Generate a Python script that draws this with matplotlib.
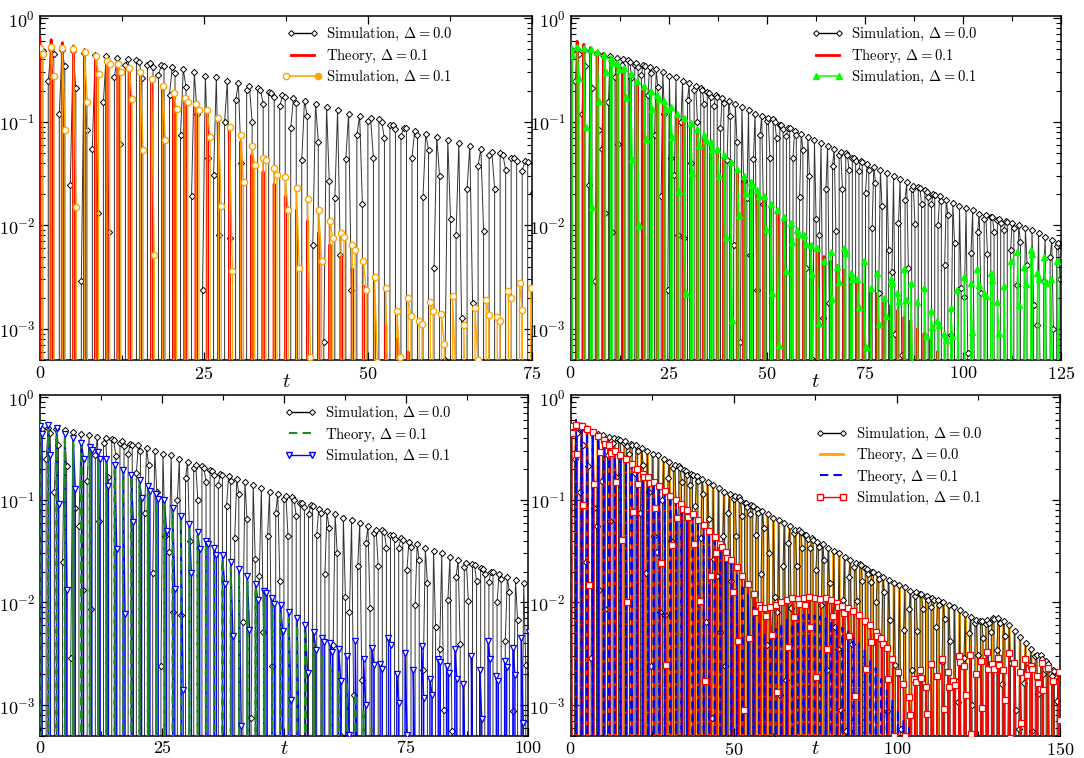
import numpy as np
import matplotlib.pyplot as plt
from matplotlib.lines import Line2D
from matplotlib.legend_handler import HandlerBase
from matplotlib.ticker import MultipleLocator

plt.rcParams['font.family'] = 'serif'
plt.rcParams['font.serif'] = ['cmr10', 'DejaVu Serif']
plt.rcParams['mathtext.fontset'] = 'cm'
plt.rcParams['axes.formatter.use_mathtext'] = True

# oscillation period (read from spacing of the dips)
period_d0 = 1.68
period_d1 = 1.70

# Simulation, Delta = 0.0 : peak of every oscillation (same run in all panels)
sim_d0_peak = [
    0.50, 0.50, 0.49, 0.48, 0.46, 0.44, 0.43, 0.41, 0.40, 0.38,
    0.37, 0.35, 0.34, 0.32, 0.30, 0.28, 0.27, 0.25, 0.235, 0.22,
    0.205, 0.19, 0.18, 0.17, 0.16, 0.15, 0.14, 0.13, 0.12, 0.115,
    0.108, 0.10, 0.094, 0.088, 0.082, 0.077, 0.072, 0.067, 0.063, 0.059,
    0.055, 0.051, 0.048, 0.045, 0.042, 0.039, 0.037, 0.034, 0.032, 0.030,
    0.028, 0.026, 0.024, 0.023, 0.021, 0.020, 0.019, 0.0175, 0.0165, 0.0155,
    0.0147, 0.014, 0.013, 0.0125, 0.012, 0.0115, 0.011, 0.0105, 0.010, 0.0095,
    0.009, 0.0085, 0.0078, 0.0072, 0.0068, 0.0066, 0.0068, 0.0070, 0.0070, 0.0066,
    0.0060, 0.0053, 0.0046, 0.0040, 0.0035, 0.0031, 0.0028, 0.0025, 0.0022, 0.0020,
]
# sampled points on the falling / rising flank, as fraction of the peak
sim_d0_fall = [
    0.97, 0.90, 0.70, 0.44, 0.18, 0.03, 0.02, 0.15, 0.42, 0.70, 0.91,
    0.98, 0.88, 0.68, 0.40, 0.16, 0.03, 0.03, 0.17, 0.45, 0.72, 0.92,
    0.97, 0.89, 0.71, 0.43, 0.19, 0.04, 0.02, 0.14, 0.41, 0.69, 0.90,
    0.98, 0.91, 0.69, 0.42, 0.17, 0.02, 0.03, 0.16, 0.44, 0.71, 0.92,
    0.97, 0.88, 0.70, 0.45, 0.18, 0.03, 0.02, 0.15, 0.43, 0.70, 0.90,
    0.98, 0.90, 0.72, 0.41, 0.16, 0.04, 0.03, 0.17, 0.42, 0.72, 0.91,
    0.97, 0.89, 0.69, 0.44, 0.19, 0.03, 0.02, 0.14, 0.45, 0.69, 0.92,
    0.98, 0.91, 0.71, 0.43, 0.17, 0.02, 0.03, 0.16, 0.41, 0.71, 0.90,
    0.97, 0.89,
]
sim_d0_rise = [
    0.50, 0.24, 0.05, 0.006, 0.12, 0.35, 0.63, 0.87, 0.98, 0.94, 0.76,
    0.52, 0.22, 0.06, 0.008, 0.11, 0.37, 0.65, 0.86, 0.97, 0.95, 0.74,
    0.48, 0.25, 0.04, 0.005, 0.13, 0.34, 0.62, 0.88, 0.98, 0.93, 0.77,
    0.51, 0.23, 0.05, 0.007, 0.12, 0.36, 0.64, 0.87, 0.99, 0.94, 0.75,
    0.49, 0.24, 0.06, 0.006, 0.11, 0.35, 0.63, 0.86, 0.98, 0.95, 0.76,
    0.50, 0.22, 0.05, 0.008, 0.13, 0.37, 0.61, 0.88, 0.97, 0.94, 0.78,
    0.52, 0.25, 0.04, 0.006, 0.12, 0.34, 0.64, 0.87, 0.98, 0.93, 0.75,
    0.49, 0.23, 0.06, 0.007, 0.11, 0.36, 0.62, 0.86, 0.99, 0.95, 0.76,
    0.50, 0.24,
]
theory_d0_peak = sim_d0_peak

# panel (a): Theory / Simulation, Delta = 0.1
theory_a_peak = [
    0.64, 0.62, 0.58, 0.54, 0.50, 0.45, 0.40, 0.37, 0.34, 0.30,
    0.26, 0.22, 0.19, 0.165, 0.14, 0.12, 0.10, 0.08, 0.064, 0.048,
    0.033, 0.025, 0.019, 0.014, 0.011, 0.0085, 0.0065, 0.005, 0.0038, 0.0026,
    0.0017, 0.0011, 0.0008, 0.0006, 0.0003,
]
sim_a_peak = [
    0.52, 0.53, 0.52, 0.50, 0.47, 0.43, 0.39, 0.36, 0.33, 0.30,
    0.26, 0.22, 0.19, 0.17, 0.15, 0.13, 0.11, 0.09, 0.075, 0.058,
    0.045, 0.036, 0.029, 0.023, 0.018, 0.014, 0.011, 0.0085, 0.0065, 0.0045,
    0.0032, 0.0025, 0.0015, 0.0020, 0.0012, 0.0018, 0.0014, 0.0021, 0.0011, 0.0016,
    0.0019, 0.0013, 0.0023, 0.0028, 0.0025,
]
sim_a_fall = [
    0.86, 0.52, 0.16, 0.03, 0.33, 0.68, 0.93,
    0.84, 0.50, 0.18, 0.02, 0.30, 0.70, 0.92,
    0.87, 0.55, 0.14, 0.04, 0.35, 0.66, 0.94,
    0.85, 0.48, 0.17, 0.03, 0.32, 0.69, 0.91,
    0.88, 0.53, 0.15, 0.05, 0.36, 0.67, 0.93,
    0.83, 0.51, 0.19, 0.03, 0.31, 0.71, 0.92,
    0.86, 0.54, 0.16,
]

# panel (b)
theory_b_peak = [
    0.62, 0.60, 0.56, 0.52, 0.48, 0.45, 0.42, 0.37, 0.33, 0.29,
    0.25, 0.22, 0.20, 0.175, 0.155, 0.14, 0.12, 0.107, 0.096, 0.083,
    0.072, 0.062, 0.053, 0.046, 0.040, 0.034, 0.029, 0.025, 0.021, 0.018,
    0.015, 0.013, 0.011, 0.0095, 0.0082, 0.0070, 0.0061, 0.0055, 0.0050, 0.0045,
    0.0041, 0.0037, 0.0033, 0.0030, 0.0027, 0.0024, 0.0021, 0.0019, 0.0017, 0.0015,
    0.0013, 0.0012, 0.0010, 0.0009, 0.0008, 0.0006, 0.0005,
]
sim_b_peak = [
    0.52, 0.53, 0.52, 0.50, 0.47, 0.44, 0.41, 0.37, 0.33, 0.29,
    0.25, 0.22, 0.20, 0.18, 0.16, 0.14, 0.12, 0.11, 0.097, 0.085,
    0.074, 0.064, 0.055, 0.048, 0.041, 0.035, 0.030, 0.026, 0.022, 0.019,
    0.016, 0.014, 0.012, 0.0105, 0.009, 0.008, 0.0065, 0.006, 0.0045, 0.0055,
    0.004, 0.006, 0.0035, 0.003, 0.0045, 0.0025, 0.0035, 0.002, 0.003, 0.0022,
    0.0038, 0.0028, 0.0018, 0.0025, 0.0015, 0.0012, 0.0009, 0.0016, 0.0024, 0.0032,
    0.0028, 0.0038, 0.0022, 0.0035, 0.0018, 0.0026, 0.0045, 0.0055, 0.004, 0.0058,
    0.0035, 0.005, 0.003, 0.0045, 0.0052,
]
sim_b_fall = [
    0.85, 0.50, 0.17, 0.03, 0.34, 0.69, 0.92,
    0.87, 0.53, 0.15, 0.04, 0.31, 0.67, 0.93,
    0.84, 0.51, 0.18, 0.02, 0.33, 0.70, 0.91,
    0.86, 0.55, 0.16, 0.03, 0.36, 0.68, 0.94,
    0.88, 0.49, 0.14, 0.05, 0.30, 0.66, 0.92,
    0.83, 0.52, 0.19, 0.03, 0.35, 0.71, 0.90,
    0.87, 0.54, 0.15, 0.04, 0.32, 0.67, 0.93,
    0.85, 0.50, 0.17, 0.02, 0.34, 0.69, 0.91,
    0.86, 0.53, 0.18, 0.03, 0.33, 0.70, 0.94,
    0.84, 0.51, 0.16, 0.04, 0.31, 0.68, 0.92,
    0.87, 0.55, 0.15, 0.03, 0.35,
]

# panel (c)
theory_c_peak = [
    0.60, 0.58, 0.50, 0.43, 0.39, 0.35, 0.32, 0.28, 0.245, 0.215,
    0.19, 0.17, 0.155, 0.13, 0.11, 0.096, 0.08, 0.066, 0.054, 0.045,
    0.037, 0.031, 0.026, 0.022, 0.019, 0.016, 0.014, 0.012, 0.0097, 0.0082,
    0.007, 0.006, 0.005, 0.004, 0.0031, 0.0025, 0.0021, 0.0017, 0.0013, 0.0009,
    0.0006,
]
sim_c_peak = [
    0.52, 0.53, 0.50, 0.44, 0.40, 0.36, 0.33, 0.29, 0.25, 0.22,
    0.195, 0.175, 0.155, 0.135, 0.115, 0.10, 0.084, 0.07, 0.058, 0.048,
    0.04, 0.034, 0.029, 0.025, 0.021, 0.018, 0.015, 0.013, 0.011, 0.0095,
    0.008, 0.007, 0.006, 0.0052, 0.0045, 0.004, 0.0035, 0.003, 0.0042, 0.0028,
    0.0036, 0.0025, 0.0045, 0.002, 0.0032, 0.0022, 0.0038, 0.0018, 0.0028, 0.0024,
    0.0035, 0.0016, 0.003, 0.0022, 0.0042, 0.0019, 0.0027, 0.0036, 0.0045, 0.0052,
]
sim_c_fall = [
    0.84, 0.51, 0.18, 0.03, 0.32, 0.70, 0.93,
    0.86, 0.54, 0.15, 0.04, 0.35, 0.67, 0.91,
    0.88, 0.50, 0.16, 0.02, 0.33, 0.69, 0.92,
    0.85, 0.52, 0.19, 0.03, 0.30, 0.71, 0.94,
    0.87, 0.55, 0.14, 0.05, 0.34, 0.66, 0.92,
    0.83, 0.49, 0.17, 0.03, 0.36, 0.68, 0.90,
    0.86, 0.53, 0.16, 0.04, 0.31, 0.70, 0.93,
    0.85, 0.51, 0.18, 0.02, 0.33, 0.67, 0.91,
    0.87, 0.54, 0.15, 0.03,
]

# panel (d)
theory_d_peak = [
    0.62, 0.62, 0.57, 0.52, 0.47, 0.42, 0.38, 0.34, 0.30, 0.27,
    0.245, 0.22, 0.20, 0.18, 0.16, 0.145, 0.13, 0.12, 0.11, 0.097,
    0.086, 0.077, 0.070, 0.063, 0.056, 0.048, 0.040, 0.034, 0.028, 0.024,
    0.019, 0.015, 0.012, 0.009, 0.0065, 0.0050, 0.0048, 0.0055, 0.0062, 0.0068,
    0.0072, 0.0075, 0.0076, 0.0076, 0.0075, 0.0073, 0.0070, 0.0066, 0.0062, 0.0057,
    0.0052, 0.0046, 0.0040, 0.0034, 0.0028, 0.0023, 0.0018, 0.0014, 0.0011, 0.0009,
    0.0007, 0.0006,
]
sim_d_peak = [
    0.52, 0.53, 0.52, 0.49, 0.46, 0.42, 0.38, 0.34, 0.30, 0.27,
    0.25, 0.225, 0.20, 0.18, 0.165, 0.15, 0.135, 0.122, 0.11, 0.10,
    0.09, 0.08, 0.072, 0.064, 0.057, 0.05, 0.043, 0.037, 0.031, 0.026,
    0.022, 0.018, 0.015, 0.012, 0.0095, 0.0088, 0.009, 0.0095, 0.010, 0.0105,
    0.011, 0.0108, 0.011, 0.0112, 0.011, 0.0108, 0.011, 0.0105, 0.0098, 0.0092,
    0.0088, 0.0082, 0.0075, 0.0066, 0.006, 0.0052, 0.0045, 0.0036, 0.0028, 0.0021,
    0.0016, 0.0012, 0.0018, 0.0022, 0.0015, 0.0025, 0.0019, 0.0028, 0.0021, 0.0017,
    0.003, 0.0024, 0.0031, 0.002, 0.0027, 0.0033, 0.0025, 0.0029, 0.0022, 0.0032,
    0.0026, 0.0021, 0.0028, 0.0024, 0.0019, 0.0026, 0.0023, 0.0017, 0.0021, 0.0018,
]
sim_d_fall = [
    0.86, 0.53, 0.17, 0.03, 0.31, 0.69, 0.92,
    0.84, 0.50, 0.15, 0.04, 0.34, 0.71, 0.93,
    0.88, 0.55, 0.18, 0.02, 0.33, 0.67, 0.91,
    0.85, 0.52, 0.16, 0.03, 0.36, 0.70, 0.94,
    0.87, 0.49, 0.19, 0.05, 0.30, 0.68, 0.92,
    0.83, 0.54, 0.14, 0.03, 0.35, 0.66, 0.90,
    0.86, 0.51, 0.17, 0.04, 0.32, 0.70, 0.93,
    0.85, 0.53, 0.15, 0.02, 0.34, 0.69, 0.91,
    0.88, 0.50, 0.18, 0.03, 0.31, 0.67, 0.94,
    0.84, 0.55, 0.16, 0.04, 0.33, 0.71, 0.92,
    0.87, 0.52, 0.17, 0.03, 0.35, 0.68, 0.90,
    0.85, 0.51, 0.15, 0.05, 0.32, 0.70, 0.93,
    0.86, 0.54, 0.18, 0.03, 0.34, 0.69,
]


def wave(peaks, period, fall=None, rise=None):
    # line through peak -> falling flank -> zero -> rising flank, per oscillation
    t, y, mt, my = [], [], [], []
    for k, p in enumerate(peaks):
        t0 = k * period
        t.append(t0); y.append(p); mt.append(t0); my.append(p)
        if fall is not None:
            t.append(t0 + period / 4); y.append(p * fall[k])
            mt.append(t0 + period / 4); my.append(p * fall[k])
        t.append(t0 + period / 2); y.append(0.0)
        if rise is not None:
            t.append(t0 + 3 * period / 4); y.append(p * rise[k])
            mt.append(t0 + 3 * period / 4); my.append(p * rise[k])
    return np.array(t), np.array(y), np.array(mt), np.array(my)


class HalfFilled(HandlerBase):
    def create_artists(self, legend, orig_handle, xdescent, ydescent,
                       width, height, fontsize, trans):
        y = height / 2 - ydescent
        c = orig_handle.get_color()
        ms = orig_handle.get_markersize()
        line = Line2D([-xdescent, width - xdescent], [y, y], color=c, lw=1.2)
        m1 = Line2D([-xdescent], [y], ls='none', marker='o', ms=ms, mfc='white', mec=c, mew=1)
        m2 = Line2D([width - xdescent], [y], ls='none', marker='o', ms=ms, mfc=c, mec=c, mew=1)
        for a in (line, m1, m2):
            a.set_transform(trans)
        return [line, m1, m2]


black_t, black_y, black_mt, black_my = wave(sim_d0_peak, period_d0, sim_d0_fall, sim_d0_rise)


def draw_black(ax, z=2):
    ax.plot(black_t, black_y, color='#333333', lw=0.7, zorder=z)
    ax.plot(black_mt, black_my, ls='none', marker='D', ms=3.2, mfc='white',
            mec='black', mew=0.7, zorder=z + 0.5)


def style(ax, xmax, major, minor, label_y):
    ax.set_yscale('log')
    ax.set_xlim(0, xmax)
    ax.set_ylim(5e-4, 1.05)
    ax.xaxis.set_major_locator(MultipleLocator(major))
    ax.xaxis.set_minor_locator(MultipleLocator(minor))
    ax.tick_params(which='both', direction='in', top=True, right=True, labelsize=13)
    ax.tick_params(which='major', length=6, width=0.9)
    ax.tick_params(which='minor', length=3.5, width=0.8)
    for s in ax.spines.values():
        s.set_linewidth(1.1)
    ax.set_xlabel('$t$', fontsize=15)
    ax.xaxis.set_label_coords(0.5, label_y)


fig = plt.figure(figsize=(10.84, 7.58), dpi=100)
ax1 = fig.add_axes([0.0369, 0.525, 0.4539, 0.4538])
ax2 = fig.add_axes([0.5263, 0.525, 0.4525, 0.4538])
ax3 = fig.add_axes([0.0369, 0.0290, 0.4502, 0.4500])
ax4 = fig.add_axes([0.5263, 0.0290, 0.4516, 0.4500])

lab_s0 = 'Simulation, $\\Delta = 0.0$'
lab_t0 = 'Theory, $\\Delta = 0.0$'
lab_t1 = 'Theory, $\\Delta = 0.1$'
lab_s1 = 'Simulation, $\\Delta = 0.1$'
h_black = Line2D([], [], color='black', lw=1.0, marker='D', ms=3, mfc='white', mec='black', mew=0.7)
leg_kw = dict(frameon=False, fontsize=10.5, handlelength=2.2, handletextpad=0.55,
              labelspacing=0.3, numpoints=2, borderaxespad=0.3)

# (a)
draw_black(ax1)
t, y, _, _ = wave(theory_a_peak, period_d1)
ax1.plot(t, y, color='red', lw=2.0, zorder=3)
t, y, mt, my = wave(sim_a_peak, period_d1, sim_a_fall)
ax1.plot(t, y, color='orange', lw=0.9, zorder=4)
ax1.plot(mt, my, ls='none', marker='o', ms=4.5, mfc='white', mec='orange', mew=1, zorder=5)
style(ax1, 75, 25, 12.5, -0.038)
h_orange = Line2D([], [], color='orange', marker='o', ms=4.5)
ax1.legend([h_black, Line2D([], [], color='red', lw=2), h_orange], [lab_s0, lab_t1, lab_s1],
           loc='upper left', bbox_to_anchor=(0.48, 1.0),
           handler_map={h_orange: HalfFilled()}, **leg_kw)

# (b)
draw_black(ax2)
t, y, _, _ = wave(theory_b_peak, period_d1)
ax2.plot(t, y, color='red', lw=2.0, zorder=3)
t, y, mt, my = wave(sim_b_peak, period_d1, sim_b_fall)
ax2.plot(t, y, color='#00ff00', lw=0.9, zorder=4)
ax2.plot(mt, my, ls='none', marker='^', ms=4.2, color='#00ff00', zorder=5)
style(ax2, 125, 25, 12.5, -0.038)
ax2.legend([h_black, Line2D([], [], color='red', lw=2),
            Line2D([], [], color='#00ff00', lw=1.1, marker='^', ms=4.2)],
           [lab_s0, lab_t1, lab_s1], loc='upper left', bbox_to_anchor=(0.47, 1.0), **leg_kw)

# (c)
draw_black(ax3)
t, y, mt, my = wave(sim_c_peak, period_d1, sim_c_fall)
ax3.plot(t, y, color='blue', lw=1.0, zorder=3)
ax3.plot(mt, my, ls='none', marker='v', ms=4.5, mfc='white', mec='blue', mew=0.9, zorder=5)
t, y, _, _ = wave(theory_c_peak, period_d1)
ax3.plot(t, y, color='#1e8c1e', lw=1.5, ls=(0, (4, 2.5)), zorder=4)
style(ax3, 100, 25, 12.5, -0.012)
ax3.set_xticks([0, 25, 50, 75, 100], ['0', '25', '', '75', '100'])
ax3.legend([h_black, Line2D([], [], color='#1e8c1e', lw=1.5, ls=(0, (4, 2.5))),
            Line2D([], [], color='blue', lw=1.0, marker='v', ms=4.5, mfc='white', mec='blue')],
           [lab_s0, lab_t1, lab_s1], loc='upper left', bbox_to_anchor=(0.48, 1.0), **leg_kw)

# (d)
t, y, _, _ = wave(theory_d0_peak, period_d0)
ax4.plot(t, y, color='orange', lw=1.8, zorder=1)
draw_black(ax4)
t, y, mt, my = wave(sim_d_peak, period_d1, sim_d_fall)
ax4.plot(t, y, color='red', lw=1.0, zorder=3)
ax4.plot(mt, my, ls='none', marker='s', ms=4.2, mfc='white', mec='red', mew=0.9, zorder=6)
t, y, _, _ = wave(theory_d_peak, period_d1)
ax4.plot(t, y, color='blue', lw=1.4, ls=(0, (4, 2.5)), zorder=4)
style(ax4, 150, 50, 25, -0.012)
ax4.legend([h_black, Line2D([], [], color='orange', lw=2),
            Line2D([], [], color='blue', lw=1.5, ls=(0, (4, 2.5))),
            Line2D([], [], color='red', lw=1.0, marker='s', ms=4.2, mfc='white', mec='red')],
           [lab_s0, lab_t0, lab_t1, lab_s1], loc='upper left', bbox_to_anchor=(0.48, 0.94), **leg_kw)

fig.savefig('out.png', dpi=100)
